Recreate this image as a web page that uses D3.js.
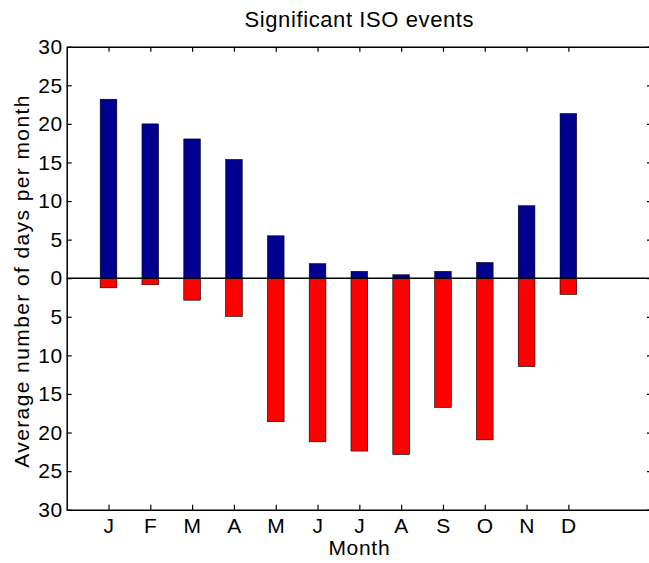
<!DOCTYPE html>
<html>
<head>
<meta charset="utf-8">
<script src="https://cdn.jsdelivr.net/npm/d3@7"></script>
<style>
	body { margin: 0; background: #fff; }
	svg text { font-family: "Liberation Sans", Arial, Helvetica, sans-serif; fill: #000; }
</style>
</head>
<body>
<script>
// month labels along the x axis
var months = ["J", "F", "M", "A", "M", "J", "J", "A", "S", "O", "N", "D"];

// days per month above the zero line (blue)
var upperDays = [23.2, 20.0, 18.05, 15.4, 5.5, 1.9, 0.9, 0.45, 0.9, 2.05, 9.4, 21.35];

// days per month below the zero line (red)
var lowerDays = [1.25, 0.85, 2.85, 4.95, 18.6, 21.2, 22.4, 22.85, 16.75, 20.95, 11.45, 2.1];

// y tick values, shown as absolute numbers
var yTicks = [-30, -25, -20, -15, -10, -5, 0, 5, 10, 15, 20, 25, 30];

window.onload = drawChart();

function drawChart(){

	var width = 649,
	height = 563;

	var svg = d3.select("body")
		.append("svg")
		.attr("width", width)
		.attr("height", height);

	// plot box (right edge sits just past the picture)
	var left = 66.7, right = 652, top = 46.7, bottom = 509.7;

	var x = d3.scaleLinear()
		.domain([0, 14])
		.range([left, right]);

	var y = d3.scaleLinear()
		.domain([-30, 30])
		.range([bottom, top]);

	var barWidth = x(0.4) - x(0);

	// blue bars going up
	svg.selectAll(".upper")
		.data(upperDays)
		.enter()
		.append("rect")
		.attr("class", "upper")
		.attr("x", function(d, i){ return x(i + 1) - barWidth / 2; })
		.attr("y", function(d){ return y(d); })
		.attr("width", barWidth)
		.attr("height", function(d){ return y(0) - y(d); })
		.attr("fill", "#00008f")
		.attr("stroke", "#000")
		.attr("stroke-width", 0.5);

	// red bars going down
	svg.selectAll(".lower")
		.data(lowerDays)
		.enter()
		.append("rect")
		.attr("class", "lower")
		.attr("x", function(d, i){ return x(i + 1) - barWidth / 2; })
		.attr("y", y(0))
		.attr("width", barWidth)
		.attr("height", function(d){ return y(-d) - y(0); })
		.attr("fill", "#ff0000")
		.attr("stroke", "#000")
		.attr("stroke-width", 0.6);

	// zero line
	svg.append("line")
		.attr("x1", left)
		.attr("x2", right)
		.attr("y1", y(0))
		.attr("y2", y(0))
		.attr("stroke", "#000")
		.attr("stroke-width", 1.5);

	var monthTicks = d3.range(1, 13);

	// bottom axis with month labels
	var xAxis = svg.append("g")
		.attr("transform", "translate(0," + bottom + ")")
		.call(d3.axisBottom(x)
			.tickValues(monthTicks)
			.tickFormat(function(d){ return months[d - 1]; })
			.tickSizeInner(-5)
			.tickSizeOuter(0)
			.tickPadding(8));

	// top axis, ticks only
	var xTop = svg.append("g")
		.attr("transform", "translate(0," + top + ")")
		.call(d3.axisTop(x)
			.tickValues(monthTicks)
			.tickFormat("")
			.tickSizeInner(-5)
			.tickSizeOuter(0));

	// left axis with absolute values
	var yAxis = svg.append("g")
		.attr("transform", "translate(" + left + ",0)")
		.call(d3.axisLeft(y)
			.tickValues(yTicks)
			.tickFormat(function(d){ return Math.abs(d); })
			.tickSizeInner(-5)
			.tickSizeOuter(0)
			.tickPadding(4));

	// right axis, ticks only
	var yRight = svg.append("g")
		.attr("transform", "translate(" + right + ",0)")
		.call(d3.axisRight(y)
			.tickValues(yTicks)
			.tickFormat("")
			.tickSizeInner(-5)
			.tickSizeOuter(0));

	svg.selectAll(".domain")
		.attr("stroke", "#000")
		.attr("stroke-width", 1.5);

	svg.selectAll(".tick line")
		.attr("stroke", "#000")
		.attr("stroke-width", 1.2);

	svg.selectAll(".tick text")
		.style("font-size", "21px")
		.style("letter-spacing", "0.6px");

	// title
	svg.append("text")
		.attr("x", (left + right) / 2)
		.attr("y", 27)
		.attr("text-anchor", "middle")
		.style("font-size", "22px")
		.style("letter-spacing", "0.6px")
		.text("Significant ISO events");

	// x label
	svg.append("text")
		.attr("x", (left + right) / 2)
		.attr("y", 555)
		.attr("text-anchor", "middle")
		.style("font-size", "21px")
		.style("letter-spacing", "0.7px")
		.text("Month");

	// y label
	svg.append("text")
		.attr("transform", "translate(28.5,281) rotate(-90)")
		.attr("text-anchor", "middle")
		.style("font-size", "21px")
		.style("letter-spacing", "1.4px")
		.text("Average number of days per month");
};
</script>
</body>
</html>
